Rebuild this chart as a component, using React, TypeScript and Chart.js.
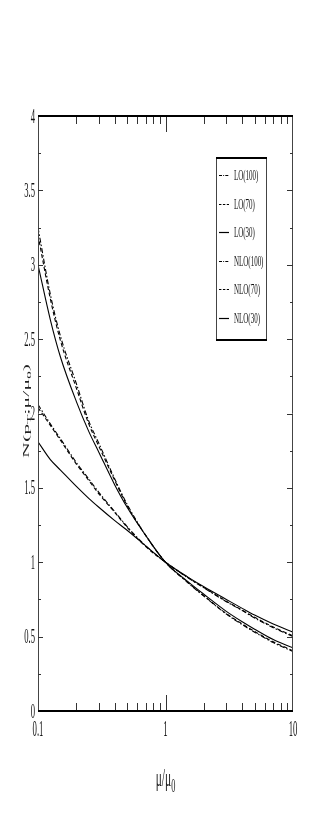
import React, { useEffect, useRef } from 'react';
import { Chart, registerables } from 'chart.js';

Chart.register(...registerables);

// mu / mu0 sample points
const muRatio = [0.1, 0.125, 0.15, 0.2, 0.25, 0.3, 0.4, 0.5, 0.7, 1, 1.5, 2, 3, 4, 5, 7, 10];

const lo100 = [3.25, 2.8, 2.52, 2.2, 1.95, 1.8, 1.56, 1.39, 1.18, 1.0, 0.862, 0.772, 0.652, 0.58, 0.53, 0.46, 0.4];
const lo70 = [3.2, 2.77, 2.49, 2.17, 1.93, 1.78, 1.55, 1.38, 1.18, 1.0, 0.864, 0.775, 0.655, 0.585, 0.535, 0.465, 0.405];
const lo30 = [3.0, 2.63, 2.38, 2.08, 1.88, 1.74, 1.52, 1.37, 1.18, 1.0, 0.87, 0.785, 0.67, 0.6, 0.55, 0.48, 0.425];
const nlo100 = [2.06, 1.93, 1.83, 1.67, 1.56, 1.47, 1.34, 1.24, 1.11, 1.0, 0.895, 0.828, 0.735, 0.675, 0.625, 0.56, 0.5];
const nlo70 = [2.04, 1.92, 1.82, 1.66, 1.55, 1.46, 1.335, 1.235, 1.105, 1.0, 0.897, 0.83, 0.738, 0.678, 0.63, 0.565, 0.505];
const nlo30 = [1.81, 1.69, 1.62, 1.51, 1.43, 1.37, 1.28, 1.215, 1.11, 1.0, 0.9, 0.835, 0.75, 0.69, 0.645, 0.585, 0.53];

const seriesLabels = ['LO(100)', 'LO(70)', 'LO(30)', 'NLO(100)', 'NLO(70)', 'NLO(30)'];
const seriesValues = [lo100, lo70, lo30, nlo100, nlo70, nlo30];

const xTickValues = [0.1, 1, 10];
const xTickLabels = ['0.1', '1', '10'];
const yTickValues = [0, 0.5, 1, 1.5, 2, 2.5, 3, 3.5, 4];
const yTickLabels = ['0', '0.5', '1', '1.5', '2', '2.5', '3', '3.5', '4'];

const FONT = "'Liberation Serif', 'DejaVu Serif', serif";

const dashFor = (label: string): number[] => {
  if (label.includes('100')) return [5, 2, 1.5, 2];
  if (label.includes('70')) return [4, 2.5];
  return [];
};

function squeezedText(
  ctx: CanvasRenderingContext2D,
  text: string,
  x: number,
  y: number,
  size: number,
  sx: number,
  align: CanvasTextAlign
) {
  ctx.save();
  ctx.translate(x, y);
  ctx.scale(sx, 1);
  ctx.font = `${size}px ${FONT}`;
  ctx.textAlign = align;
  ctx.textBaseline = 'alphabetic';
  ctx.fillStyle = '#111';
  ctx.fillText(text, 0, 0);
  ctx.restore();
}

type Seg = { t: string; sub: boolean };

function drawSegs(ctx: CanvasRenderingContext2D, segs: Seg[], size: number) {
  const subSize = Math.round(size * 0.7);
  let total = 0;
  const widths = segs.map((s) => {
    ctx.font = `${s.sub ? subSize : size}px ${FONT}`;
    const w = ctx.measureText(s.t).width;
    total += w;
    return w;
  });
  let cx = -total / 2;
  ctx.fillStyle = '#222';
  segs.forEach((s, i) => {
    ctx.font = `${s.sub ? subSize : size}px ${FONT}`;
    ctx.textAlign = 'left';
    ctx.textBaseline = 'alphabetic';
    ctx.fillText(s.t, cx, s.sub ? size * 0.25 : 0);
    cx += widths[i];
  });
}

const framePlugin = {
  id: 'framePlugin',
  afterDraw(chart: any) {
    const ctx: CanvasRenderingContext2D = chart.ctx;
    const { left, right, top, bottom } = chart.chartArea;
    const xs = chart.scales.x;
    const ys = chart.scales.y;
    ctx.save();
    ctx.fillStyle = '#000';

    // side borders (thin)
    ctx.strokeStyle = '#444';
    ctx.lineWidth = 1;
    ctx.beginPath();
    ctx.moveTo(Math.round(left) + 0.5, top);
    ctx.lineTo(Math.round(left) + 0.5, bottom);
    ctx.moveTo(Math.round(right) - 0.5, top);
    ctx.lineTo(Math.round(right) - 0.5, bottom);
    ctx.stroke();

    // x ticks (log minor/major), inward, bottom & top
    ctx.strokeStyle = '#333';
    ctx.beginPath();
    for (let dec = 0.1; dec < 10; dec *= 10) {
      for (let m = 1; m <= 9; m++) {
        const v = dec * m;
        if (m === 1 && v < 0.5) continue;
        const px = Math.round(xs.getPixelForValue(v)) + 0.5;
        const len = m === 1 ? 16 : 8;
        ctx.moveTo(px, bottom);
        ctx.lineTo(px, bottom - len);
        ctx.moveTo(px, top);
        ctx.lineTo(px, top + len);
      }
    }
    // y ticks inward, left & right
    for (let i = 1; i < 16; i++) {
      const v = i * 0.25;
      const py = Math.round(ys.getPixelForValue(v)) + 0.5;
      const major = i % 2 === 0;
      const lenL = major ? 5 : 3;
      const lenR = major ? 6 : 3;
      ctx.moveTo(left, py);
      ctx.lineTo(left + lenL, py);
      ctx.moveTo(right, py);
      ctx.lineTo(right - lenR, py);
    }
    ctx.stroke();

    // top & bottom borders (thick)
    ctx.strokeStyle = '#000';
    ctx.lineWidth = 2;
    ctx.beginPath();
    ctx.moveTo(left, Math.round(top));
    ctx.lineTo(right, Math.round(top));
    ctx.moveTo(left, Math.round(bottom));
    ctx.lineTo(right, Math.round(bottom));
    ctx.stroke();

    // tick labels
    yTickValues.forEach((v, i) => {
      const py = ys.getPixelForValue(v);
      squeezedText(ctx, yTickLabels[i], left - 3, py + 6.5, 20, 0.43, 'right');
    });
    xTickValues.forEach((v, i) => {
      const px = xs.getPixelForValue(v);
      squeezedText(ctx, xTickLabels[i], px, bottom + 25, 23, 0.38, 'center');
    });

    // x-axis title
    ctx.save();
    ctx.translate((left + right) / 2, bottom + 75);
    ctx.scale(0.46, 1);
    drawSegs(ctx, [
      { t: 'μ/μ', sub: false },
      { t: '0', sub: true },
    ], 25);
    ctx.restore();

    // y-axis title
    ctx.save();
    ctx.translate(29, 411);
    ctx.rotate(-Math.PI / 2);
    ctx.scale(1, 0.42);
    drawSegs(ctx, [
      { t: 'N(p', sub: false },
      { t: 'T', sub: true },
      { t: ';μ/μ', sub: false },
      { t: '0', sub: true },
      { t: ')', sub: false },
    ], 22);
    ctx.restore();

    // legend box
    const bx0 = 216, bx1 = 267, by0 = 158, by1 = 340;
    ctx.fillStyle = '#fff';
    ctx.fillRect(bx0, by0, bx1 - bx0, by1 - by0);
    ctx.strokeStyle = '#444';
    ctx.lineWidth = 1;
    ctx.beginPath();
    ctx.moveTo(bx0 + 0.5, by0);
    ctx.lineTo(bx0 + 0.5, by1);
    ctx.moveTo(bx1 - 0.5, by0);
    ctx.lineTo(bx1 - 0.5, by1);
    ctx.stroke();
    ctx.strokeStyle = '#000';
    ctx.lineWidth = 2;
    ctx.beginPath();
    ctx.moveTo(bx0, by0);
    ctx.lineTo(bx1, by0);
    ctx.moveTo(bx0, by1);
    ctx.lineTo(bx1, by1);
    ctx.stroke();

    chart.data.datasets.forEach((ds: any, i: number) => {
      const cy = 175 + i * 28.6;
      ctx.save();
      ctx.strokeStyle = '#000';
      ctx.lineWidth = 1.2;
      const d = dashFor(ds.label).map((n: number) => n * 0.6);
      ctx.setLineDash(d);
      ctx.beginPath();
      ctx.moveTo(219, Math.round(cy) + 0.5);
      ctx.lineTo(229, Math.round(cy) + 0.5);
      ctx.stroke();
      ctx.restore();
      squeezedText(ctx, ds.label, 234, cy + 5, 15.5, 0.45, 'left');
    });

    ctx.restore();
  },
};

export default function App() {
  const canvasRef = useRef<HTMLCanvasElement | null>(null);

  useEffect(() => {
    const canvas = canvasRef.current;
    if (!canvas) return;
    const datasets = seriesLabels.map((label, i) => ({
      label,
      data: muRatio.map((x, j) => ({ x, y: seriesValues[i][j] })),
      borderColor: '#000',
      backgroundColor: '#000',
      borderWidth: 1.1,
      borderDash: dashFor(label),
      pointRadius: 0,
      fill: false,
      cubicInterpolationMode: 'monotone' as const,
    }));
    const chart = new Chart(canvas, {
      type: 'line',
      data: { datasets },
      options: {
        responsive: false,
        animation: false,
        layout: { padding: { left: 38, right: 37, top: 116, bottom: 128 } },
        scales: {
          x: { type: 'logarithmic', min: 0.1, max: 10, display: false },
          y: { type: 'linear', min: 0, max: 4, display: false },
        },
        plugins: {
          legend: { display: false },
          tooltip: { enabled: false },
          title: { display: false },
        },
      },
      plugins: [framePlugin],
    });
    return () => chart.destroy();
  }, []);

  return (
    <div style={{ position: 'absolute', left: 0, top: 0, width: 330, height: 839, background: '#fff' }}>
      <canvas ref={canvasRef} width={330} height={839} style={{ display: 'block', width: 330, height: 839 }} />
    </div>
  );
}
